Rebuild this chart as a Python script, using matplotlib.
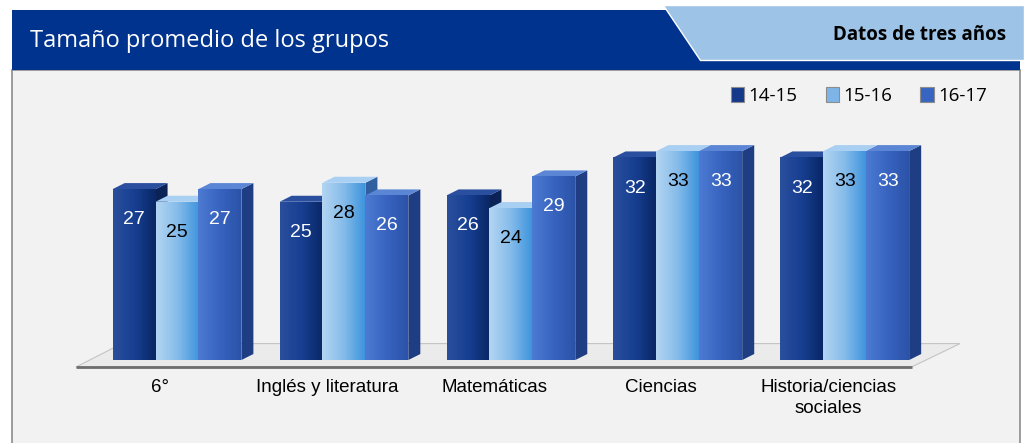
import matplotlib.pyplot as plt
from matplotlib.patches import Polygon, Rectangle
from matplotlib.colors import LinearSegmentedColormap
import numpy as np

W, H = 1024, 443

categorias = ['6°', 'Inglés y literatura', 'Matemáticas', 'Ciencias', 'Historia/ciencias\nsociales']
periodos = ['14-15', '15-16', '16-17']
v_1415 = [27, 25, 26, 32, 32]
v_1516 = [25, 28, 24, 33, 33]
v_1617 = [27, 26, 29, 33, 33]
series = [v_1415, v_1516, v_1617]

col_frente = ['#14388a', '#7eb5e8', '#3865c2']
degradados = [['#2a4f9c', '#173f92', '#0a2766'],
              ['#b3d5f2', '#86bcea', '#3f95dd'],
              ['#4d7bd2', '#3864c0', '#2b53a8']]
col_lado = ['#0b2257', '#2f5f9f', '#1f3d82']
col_techo = ['#2b4f9f', '#a9cff2', '#5b86d6']
col_texto = ['white', 'black', 'white']

ANCHO = 0.257      # ancho de cada barra (en unidades de categoria)
DX, DY = 0.072, 0.95  # profundidad del efecto 3D


def fx(x):
    return x / W


def fy(y):
    return 1 - y / H


fig = plt.figure(figsize=(W / 100, H / 100), dpi=100)
fig.patch.set_facecolor('white')

# fondo del cuerpo
fig.patches.append(Rectangle((fx(12), -0.05), fx(1020) - fx(12), fy(70) + 0.05, transform=fig.transFigure,
                             facecolor='#f2f2f2', edgecolor='#8c8c8c', lw=1.2, zorder=-3))
# encabezado
fig.patches.append(Rectangle((fx(12), fy(70)), fx(1020) - fx(12), fy(10) - fy(70), transform=fig.transFigure,
                             facecolor='#00338d', edgecolor='none', zorder=-2))
fig.patches.append(Polygon([(fx(663), fy(5)), (fx(1024), fy(5)), (fx(1024), fy(60)), (fx(700), fy(60))],
                           closed=True, transform=fig.transFigure, facecolor='#9dc3e6',
                           edgecolor='white', lw=1, zorder=-1))
fig.text(fx(30), fy(41), 'Tamaño promedio de los grupos', color='white', fontsize=17,
         family='Open Sans', va='center', ha='left')
fig.text(fx(1006), fy(35), 'Datos de tres años', color='black', fontsize=13.5,
         family='Open Sans', weight='bold', va='center', ha='right')

ax = fig.add_axes([fx(73.5), fy(372.7), fx(970) - fx(73.5), fy(106.8) - fy(372.7)])
ax.set_zorder(5)
ax.axis('off')

# piso
ax.add_patch(Polygon([(-0.605, -1.1), (4.40, -1.1), (4.69, 2.6), (-0.33, 2.6)], closed=True,
                     facecolor='#ebebeb', edgecolor='#c4c4c4', lw=0.8, zorder=1))
ax.plot([-0.605, 4.40], [-1.1, -1.1], color='#6e6e6e', lw=2, zorder=2, solid_capstyle='butt')

grad = np.linspace(0, 1, 64).reshape(1, -1)
for i in range(len(categorias)):
    for j, vals in enumerate(series):
        x0 = i - 1.5 * ANCHO + j * ANCHO
        x1 = x0 + ANCHO
        h = vals[i]
        z = 3 + i * 10 + j * 3
        ax.add_patch(Polygon([(x1, 0), (x1 + DX, DY), (x1 + DX, h + DY), (x1, h)], closed=True,
                             facecolor=col_lado[j], edgecolor='none', zorder=z))
        ax.add_patch(Polygon([(x0, h), (x0 + DX, h + DY), (x1 + DX, h + DY), (x1, h)], closed=True,
                             facecolor=col_techo[j], edgecolor='none', zorder=z))
        barras = ax.bar(x0, h, width=ANCHO, align='edge', color=col_frente[j], edgecolor='none',
                        zorder=z + 1, label=periodos[j] if i == 0 else None)
        cmap = LinearSegmentedColormap.from_list('g%d' % j, degradados[j])
        im = ax.imshow(grad, cmap=cmap, extent=[x0, x1, 0, h], aspect='auto',
                       interpolation='bilinear', zorder=z + 1.5)
        im.set_clip_path(barras[0])
        ax.annotate(str(h), (x0 + ANCHO / 2, h), xytext=(0, -22), textcoords='offset points',
                    ha='center', va='center', color=col_texto[j], fontsize=14,
                    family='Liberation Sans', zorder=z + 2)
    ax.text(i - 0.1, -3.0, categorias[i], ha='center', va='top', fontsize=13.5,
            family='Liberation Sans', color='black', linespacing=1.3, clip_on=False)

ax.set_xlim(-0.62, 4.75)
ax.set_ylim(-2, 40)

leg = ax.legend(loc='center right', bbox_to_anchor=(fx(1004), fy(96)), bbox_transform=fig.transFigure,
                ncol=3, frameon=False, handlelength=0.7, handleheight=0.9, handletextpad=0.25,
                columnspacing=1.5, prop={'family': 'Open Sans', 'size': 13.5})
for p in leg.get_patches():
    p.set_edgecolor('#8c8c8c')
    p.set_linewidth(0.8)

fig.savefig('out.png', dpi=100)
